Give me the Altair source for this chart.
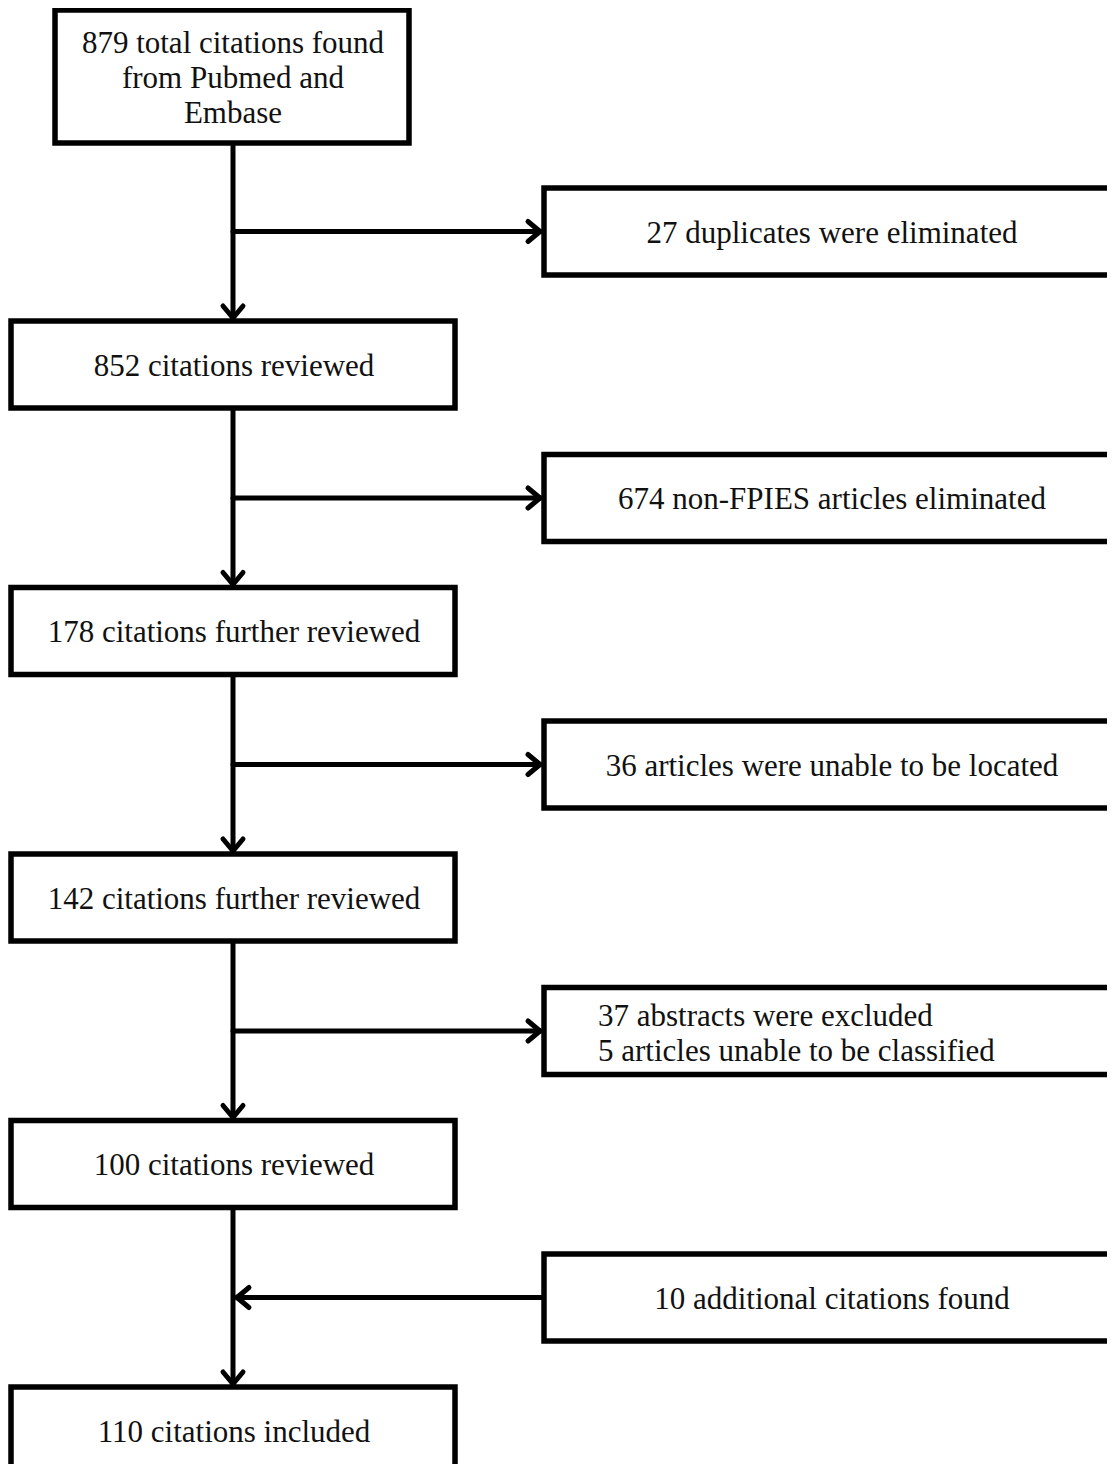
import altair as alt
import pandas as pd

# ---- content ----
main_labels = [
    "879 total citations found\nfrom Pubmed and\nEmbase",
    "852 citations reviewed",
    "178 citations further reviewed",
    "142 citations further reviewed",
    "100 citations reviewed",
    "110 citations included",
]
side_labels = [
    "27 duplicates were eliminated",
    "674 non-FPIES articles eliminated",
    "36 articles were unable to be located",
    "37 abstracts were excluded\n5 articles unable to be classified",
    "10 additional citations found",
]
side_incoming = [False, False, False, False, True]
side_left_aligned = [False, False, False, True, False]

# ---- layout (page pixel space) ----
STEP = 266.5
SPINE_X = 233
MAIN_X = (11, 455)
FIRST_BOX = (55, 409, 10, 143)
MAIN_TOP0, BOX_H = 321, 87
SIDE_X = (544, 1200)
SIDE_TOP0 = 188
ARROW_TIP_RIGHT = 540
ARROW_TIP_LEFT = 237
ARM_L, ARM_W = 12, 10
LH = 35


def first_line_y(center, label):
    n = label.count("\n") + 1
    return center - (n - 1) * LH / 2


boxes, texts, segs = [], [], []
for k, lab in enumerate(main_labels):
    if k == 0:
        x1, x2, y1, y2 = FIRST_BOX
    else:
        x1, x2 = MAIN_X
        y1 = MAIN_TOP0 + STEP * (k - 1)
        y2 = y1 + BOX_H
    boxes.append(dict(x=x1, x2=x2, y=y1, y2=y2))
    texts.append(dict(x=(x1 + x2) / 2 + 1, y=first_line_y((y1 + y2) / 2, lab) + 2,
                      t=lab, a="center"))
    if k > 0:
        tip = y1 - 3
        segs.append(dict(x=SPINE_X - ARM_W, y=tip - ARM_L, x2=SPINE_X, y2=tip))
        segs.append(dict(x=SPINE_X + ARM_W, y=tip - ARM_L, x2=SPINE_X, y2=tip))

last_top = MAIN_TOP0 + STEP * (len(main_labels) - 2)
segs.append(dict(x=SPINE_X, y=FIRST_BOX[3], x2=SPINE_X, y2=last_top - 3))

for k, lab in enumerate(side_labels):
    y1 = SIDE_TOP0 + STEP * k
    y2 = y1 + BOX_H
    yc = (y1 + y2) / 2
    boxes.append(dict(x=SIDE_X[0], x2=SIDE_X[1], y=y1, y2=y2))
    if side_left_aligned[k]:
        texts.append(dict(x=598, y=first_line_y(yc, lab) + 3, t=lab, a="left"))
    else:
        texts.append(dict(x=832, y=first_line_y(yc, lab) + 2, t=lab, a="center"))
    if side_incoming[k]:
        segs.append(dict(x=SIDE_X[0] - 3, y=yc, x2=ARROW_TIP_LEFT, y2=yc))
        segs.append(dict(x=ARROW_TIP_LEFT + ARM_L, y=yc - ARM_W, x2=ARROW_TIP_LEFT, y2=yc))
        segs.append(dict(x=ARROW_TIP_LEFT + ARM_L, y=yc + ARM_W, x2=ARROW_TIP_LEFT, y2=yc))
    else:
        segs.append(dict(x=SPINE_X, y=yc, x2=ARROW_TIP_RIGHT, y2=yc))
        segs.append(dict(x=ARROW_TIP_RIGHT - ARM_L, y=yc - ARM_W, x2=ARROW_TIP_RIGHT, y2=yc))
        segs.append(dict(x=ARROW_TIP_RIGHT - ARM_L, y=yc + ARM_W, x2=ARROW_TIP_RIGHT, y2=yc))

boxes_df = pd.DataFrame(boxes)
texts_df = pd.DataFrame(texts)
segs_df = pd.DataFrame(segs)

xs = alt.Scale(domain=[8, 1107], nice=False, zero=False)
ys = alt.Scale(domain=[8, 1464], nice=False, zero=False, reverse=True)

X = lambda f: alt.X(f"{f}:Q", scale=xs, axis=None)
Y = lambda f: alt.Y(f"{f}:Q", scale=ys, axis=None)

lines = alt.Chart(segs_df).mark_rule(
    color="black", strokeWidth=5, strokeCap="round", clip=True
).encode(x=X("x"), y=Y("y"), x2="x2:Q", y2="y2:Q")

rects = alt.Chart(boxes_df).mark_rect(
    fill="white", stroke="black", strokeWidth=5.5, clip=True
).encode(x=X("x"), x2="x2:Q", y=Y("y"), y2="y2:Q")

font = dict(font="Liberation Serif", fontSize=31, baseline="middle",
            lineBreak="\n", lineHeight=LH, color="#111111")

text_c = alt.Chart(texts_df).transform_filter("datum.a == 'center'").mark_text(
    align="center", **font
).encode(x=X("x"), y=Y("y"), text="t:N")

text_l = alt.Chart(texts_df).transform_filter("datum.a == 'left'").mark_text(
    align="left", **font
).encode(x=X("x"), y=Y("y"), text="t:N")

chart = alt.layer(lines, rects, text_c, text_l).properties(
    width=1099, height=1456, padding=0, autosize="none"
).configure_view(stroke=None)

chart.save("out.html", embed_options={"renderer": "svg", "actions": False})
